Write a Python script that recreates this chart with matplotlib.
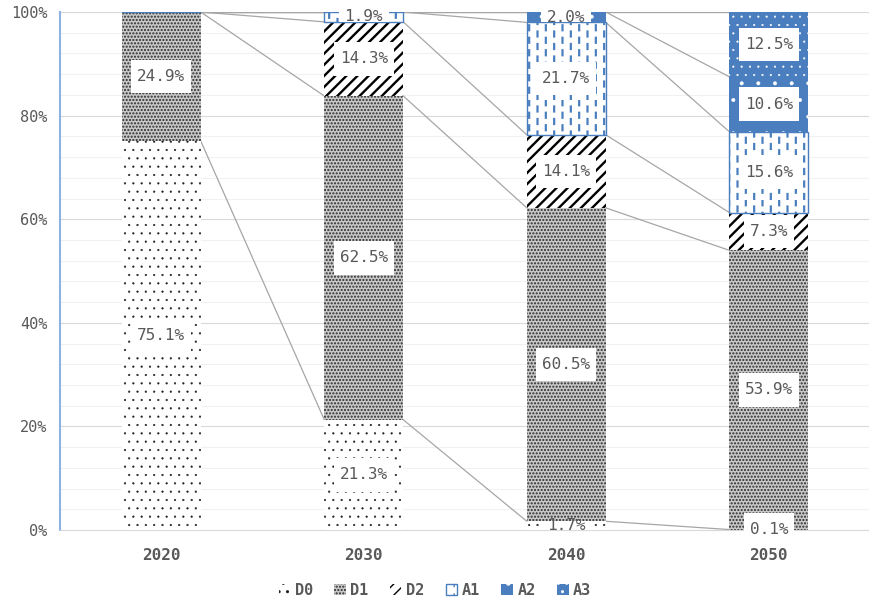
import warnings
import numpy as np
import matplotlib
matplotlib.use("Agg")
import matplotlib.pyplot as plt
from matplotlib import hatch as mhatch
from matplotlib.path import Path
from matplotlib.patches import Patch

warnings.filterwarnings("ignore")

# ---- data -------------------------------------------------------------
years = ["2020", "2030", "2040", "2050"]
series = ["D0", "D1", "D2", "A1", "A2", "A3"]
d0 = [75.1, 21.3, 1.7, 0.1]
d1 = [24.9, 62.5, 60.5, 53.9]
d2 = [0.0, 14.3, 14.1, 7.3]
a1 = [0.0, 1.9, 21.7, 15.6]
a2 = [0.0, 0.0, 2.0, 10.6]
a3 = [0.0, 0.0, 0.0, 12.5]
values = [d0, d1, d2, a1, a2, a3]
ytick_vals = [0, 20, 40, 60, 80, 100]


# ---- custom hatch: staggered vertical dashes (":") ---------------------
class VerticalDashes(mhatch.HatchPatternBase):
    cols, rows, dash = 12, 8, 0.05

    def __init__(self, hatch, density):
        self.on = ":" in hatch
        self.num_vertices = self.cols * self.rows * 2 if self.on else 0

    def set_vertices_and_codes(self, vertices, codes):
        k = 0
        for c in range(self.cols):
            x = (c + 0.5) / self.cols
            off = 0.5 / self.rows if c % 2 else 0.0
            for r in range(self.rows):
                y0 = r / self.rows + off + 0.01
                vertices[k] = (x, y0)
                vertices[k + 1] = (x, y0 + self.dash)
                codes[k] = Path.MOVETO
                codes[k + 1] = Path.LINETO
                k += 2


mhatch._hatch_types.append(VerticalDashes)


def label_box(x0, y0, width, height, mutation_size):
    """White label box, taller padding than side padding."""
    px, py = 0.36 * mutation_size, 0.58 * mutation_size
    xa, ya = x0 - px, y0 - py
    xb, yb = x0 + width + px, y0 + height + py
    return Path([(xa, ya), (xb, ya), (xb, yb), (xa, yb), (xa, ya)],
                closed=True)


BLUE = "#4a7ebf"
styles = {
    "D0": dict(face="white", hatch="..", hc="#222222", edge=0, hlw=0.35),
    "D1": dict(face="#c8c8c8", hatch=".....", hc="#2a2a2a", edge=0, hlw=1.0),
    "D2": dict(face="white", hatch="///", hc="black", edge=0, hlw=1.7),
    "A1": dict(face="white", hatch=":", hc=BLUE, edge=1.0, hlw=1.6),
    "A2": dict(face=BLUE, hatch=".", hc="white", edge=0, hlw=0.4),
    "A3": dict(face=BLUE, hatch="..", hc="white", edge=0, hlw=0.3),
}

plt.rcParams["font.family"] = ["DejaVu Sans Mono", "DejaVu Sans"]
TXT = "#595959"

fig = plt.figure(figsize=(8.7, 6.01), dpi=100)
ax = fig.add_axes([0.069, 0.118, 0.931, 0.862])

x = np.arange(len(years))
w = 0.39
bottoms = np.zeros(len(years))
tops = []
for name, vals in zip(series, values):
    st = styles[name]
    vals = np.array(vals)
    bars = ax.bar(x, vals, w, bottom=bottoms, color=st["face"],
                  edgecolor=st["hc"], linewidth=st["edge"],
                  hatch=st["hatch"], zorder=3)
    for b in bars:
        b.set_hatch_linewidth(st["hlw"])
    for bar, xi, v, b0 in zip(bars, x, vals, bottoms):
        if v <= 0:
            continue
        t = ax.text(xi, b0 + v / 2, f"{v:.1f}%", ha="center", va="center",
                    fontsize=11.5, color=TXT, zorder=6,
                    bbox=dict(boxstyle=label_box, fc="white", ec="none"))
        # on thin segments the label's box stays inside its own segment
        if v >= 1.0:
            box = t.get_bbox_patch()
            box.set_clip_path(bar)
            box.set_clip_on(True)
    bottoms = bottoms + vals
    tops.append(bottoms.copy())

# series lines joining the segment tops of neighbouring bars
for t in tops:
    for i in range(len(years) - 1):
        ax.plot([x[i] + w / 2, x[i + 1] - w / 2], [t[i], t[i + 1]],
                color="#a6a6a6", lw=0.9, zorder=2)

ax.set_xlim(-0.5, len(years) - 0.5)
ax.set_ylim(0, 100)
ax.set_xticks(x)
ax.set_xticklabels(years, fontsize=11.5, fontweight="bold", color=TXT)
ax.set_yticks(ytick_vals)
ax.set_yticklabels([f"{v}%" for v in ytick_vals], fontsize=11, color=TXT)
ax.set_yticks(np.arange(0, 101, 4), minor=True)
ax.tick_params(axis="x", length=0, pad=13)
ax.tick_params(axis="y", which="both", length=0, pad=9)
ax.grid(axis="y", which="major", color="#d9d9d9", lw=0.8, zorder=0)
ax.grid(axis="y", which="minor", color="#f1f1f1", lw=0.8, zorder=0)
ax.set_axisbelow(True)
for s in ("top", "right"):
    ax.spines[s].set_visible(False)
ax.spines["left"].set_color("#8db3e2")
ax.spines["left"].set_linewidth(1.5)
ax.spines["bottom"].set_color("#d9d9d9")
ax.spines["bottom"].set_linewidth(0.8)

handles = []
for name in series:
    st = styles[name]
    p = Patch(facecolor=st["face"], edgecolor=st["hc"],
              linewidth=st["edge"], hatch=st["hatch"], label=name)
    p.set_hatch_linewidth(min(st["hlw"], 1.2))
    handles.append(p)
fig.legend(handles=handles, loc="center", bbox_to_anchor=(0.5, 0.018),
           ncol=6, frameon=False, handlelength=0.75, handleheight=0.75,
           handletextpad=0.3, columnspacing=1.4,
           prop=dict(family="DejaVu Sans Mono", weight="bold", size=11))
for t in fig.legends[0].get_texts():
    t.set_color(TXT)

fig.savefig("out.png", dpi=100)
